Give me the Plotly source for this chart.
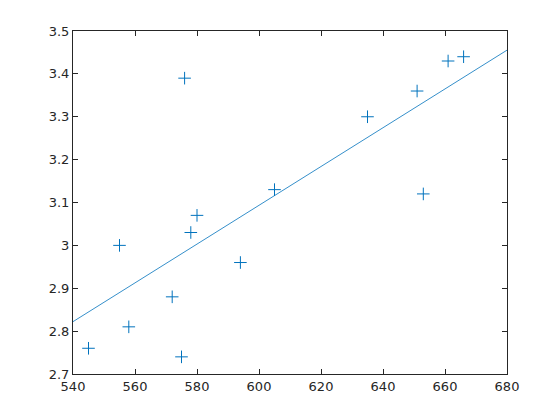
import plotly.graph_objects as go
import numpy as np

# LSAT vs GPA scores
lsat = [576, 635, 558, 578, 666, 580, 555, 661, 651, 605, 653, 575, 545, 572, 594]
gpa = [3.39, 3.30, 2.81, 3.03, 3.44, 3.07, 3.00, 3.43, 3.36, 3.13, 3.12, 2.74, 2.76, 2.88, 2.96]

x_ticks = [540, 560, 580, 600, 620, 640, 660, 680]
y_ticks = [2.7, 2.8, 2.9, 3.0, 3.1, 3.2, 3.3, 3.4, 3.5]
y_labels = ['2.7', '2.8', '2.9', '3', '3.1', '3.2', '3.3', '3.4', '3.5']

# least-squares line across the axis limits
slope, intercept = np.polyfit(lsat, gpa, 1)
fit_x = [x_ticks[0], x_ticks[-1]]
fit_y = [slope * v + intercept for v in fit_x]

blue = '#0072BD'
axis_col = '#262626'

fig = go.Figure()

fig.add_trace(go.Scatter(
    x=lsat, y=gpa,
    mode='markers',
    marker=dict(symbol='cross-thin-open', size=9, color=blue,
                line=dict(color=blue, width=1)),
    showlegend=False
))

fig.add_trace(go.Scatter(
    x=fit_x, y=fit_y,
    mode='lines',
    line=dict(color=blue, width=0.8),
    showlegend=False
))

# page body adds an 8px offset, so the figure is 8px smaller each way
fig.update_layout(
    width=552, height=412,
    margin=dict(l=65, r=53, t=23, b=46),
    plot_bgcolor='white',
    paper_bgcolor='white',
    font=dict(family='DejaVu Sans', size=13, color=axis_col),
)

fig.update_xaxes(
    range=[540, 680],
    tickvals=x_ticks,
    showgrid=False, zeroline=False,
    showline=True, linecolor=axis_col, linewidth=1,
    mirror='ticks', ticks='inside', ticklen=5, tickcolor=axis_col,
)

fig.update_yaxes(
    range=[2.7, 3.5],
    tickvals=y_ticks, ticktext=y_labels,
    showgrid=False, zeroline=False,
    showline=True, linecolor=axis_col, linewidth=1,
    mirror='ticks', ticks='inside', ticklen=5, tickcolor=axis_col,
)

fig.write_html("out.html")
